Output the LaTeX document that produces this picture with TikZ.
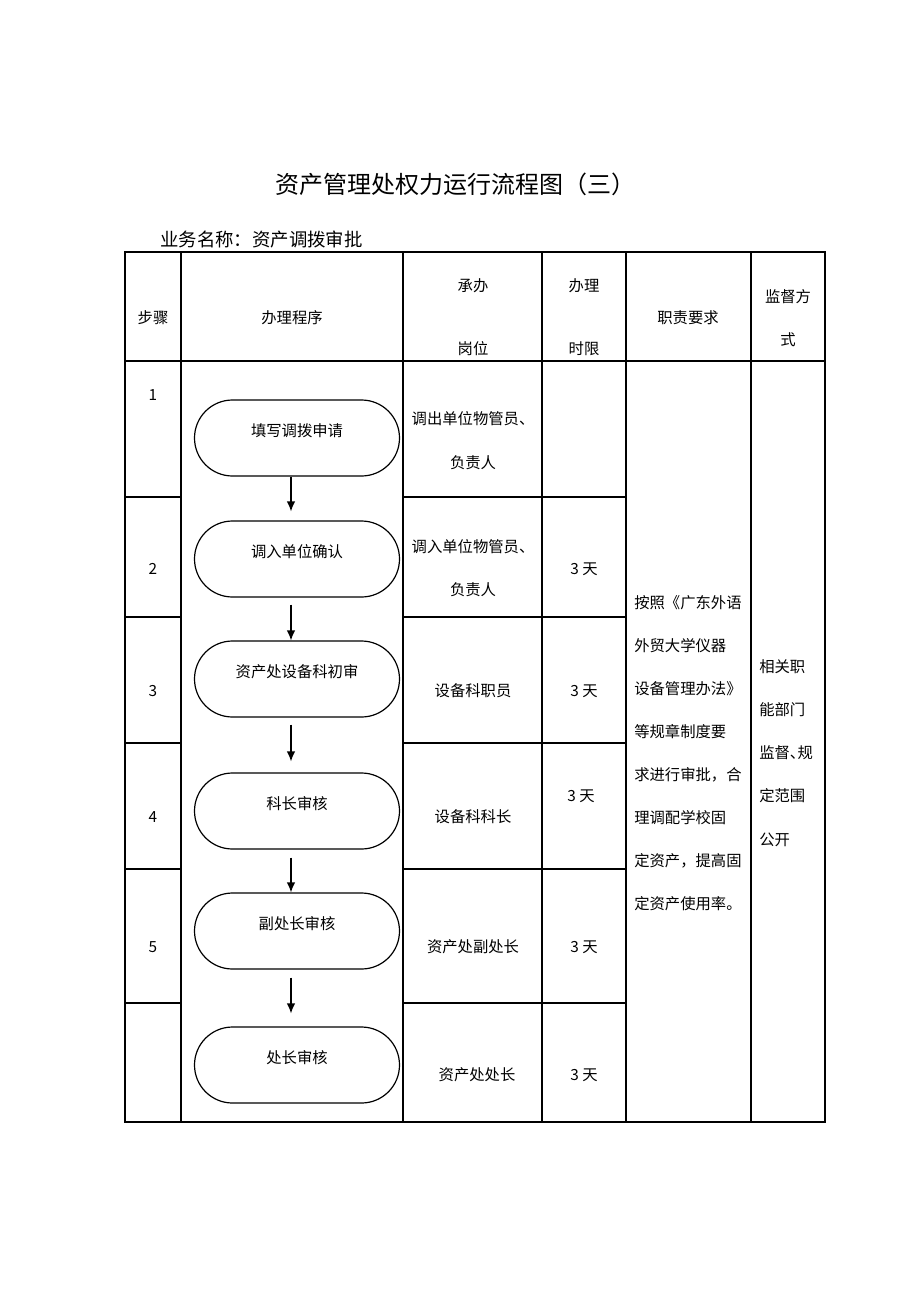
\documentclass[tikz,border=0pt]{standalone}
\usepackage{fontspec}
\setmainfont{Noto Sans CJK SC}
\usetikzlibrary{arrows.meta,calc}
\begin{document}
\begin{tikzpicture}[x=0.75pt,y=-0.75pt,
  grid/.style={line width=1.4pt,black},
  txt/.style={inner sep=0pt,font=\fontsize{11.5pt}{14pt}\selectfont},
  lft/.style={txt,anchor=west},
  procbox/.style={draw,line width=0.9pt,rounded corners=28.5pt,minimum width=153.75pt,minimum height=57pt,inner sep=0pt,font=\fontsize{11.5pt}{14pt}\selectfont},
  arr/.style={line width=1.1pt,-{Latex[length=7.5pt,width=6.5pt]}}]
\useasboundingbox[fill=white] (0,0) rectangle (920,1302);
% title
\node[inner sep=0pt,font=\fontsize{18pt}{22pt}\selectfont] (title) at (455,184) {资产管理处权力运行流程图（三）};
\node[inner sep=0pt,anchor=west,font=\fontsize{13.8pt}{16pt}\selectfont] (sub) at (160,240) {业务名称：资产调拨审批};
% table grid
\draw[grid] (125,252) rectangle (825,1122);
\foreach \x in {181,403,542,626,751} \draw[grid] (\x,252) -- (\x,1122);
\draw[grid] (125,361) -- (825,361);
\foreach \y in {497,617,743,869,1003} {
  \draw[grid] (125,\y) -- (181,\y);
  \draw[grid] (403,\y) -- (626,\y);
}
% header
\node[txt] (h1) at (153,318) {步骤};
\node[txt] (h2) at (292,318) {办理程序};
\node[txt] (h3a) at (473,286) {承办};
\node[txt] (h3b) at (473,349) {岗位};
\node[txt] (h4a) at (584,286) {办理};
\node[txt] (h4b) at (584,349) {时限};
\node[txt] (h5) at (688,318) {职责要求};
\node[txt] (h6a) at (788,297) {监督方};
\node[txt] (h6b) at (788,340) {式};
% step numbers
\node[txt] (s1) at (153,395) {1};
\node[txt] (s2) at (153,569) {2};
\node[txt] (s3) at (153,691) {3};
\node[txt] (s4) at (153,817) {4};
\node[txt] (s5) at (153,947) {5};
% process boxes
\node[procbox] (b1) at (297,438) {\raisebox{11.5pt}{填写调拨申请}};
\node[procbox] (b2) at (297,559) {\raisebox{11.5pt}{调入单位确认}};
\node[procbox] (b3) at (297,679) {\raisebox{11.5pt}{资产处设备科初审}};
\node[procbox] (b4) at (297,811) {\raisebox{11.5pt}{科长审核}};
\node[procbox] (b5) at (297,931) {\raisebox{11.5pt}{副处长审核}};
\node[procbox] (b6) at (297,1065) {\raisebox{11.5pt}{处长审核}};
\coordinate (ax) at (291,0);
\draw[arr] (b1.south -| ax) -- ($(b2.north -| ax)+(0,-9)$);
\draw[arr] ($(b2.south -| ax)+(0,7)$) -- (b3.north -| ax);
\draw[arr] ($(b3.south -| ax)+(0,7)$) -- ($(b4.north -| ax)+(0,-11)$);
\draw[arr] ($(b4.south -| ax)+(0,8)$) -- (b5.north -| ax);
\draw[arr] ($(b5.south -| ax)+(0,8)$) -- ($(b6.north -| ax)+(0,-13)$);
% posts
\node[txt] (p1a) at (473,419) {调出单位物管员、};
\node[txt] (p1b) at (473,463) {负责人};
\node[txt] (p2a) at (473,547) {调入单位物管员、};
\node[txt] (p2b) at (473,590) {负责人};
\node[txt] (p3) at (473,691) {设备科职员};
\node[txt] (p4) at (473,817) {设备科科长};
\node[txt] (p5) at (473,947) {资产处副处长};
\node[txt] (p6) at (477,1075) {资产处处长};
% time limits
\node[txt] (t2) at (584,569) {3 天};
\node[txt] (t3) at (584,691) {3 天};
\node[txt] (t4) at (581,796) {3 天};
\node[txt] (t5) at (584,947) {3 天};
\node[txt] (t6) at (584,1075) {3 天};
% duties
\node[lft] (d1) at (634,603) {按照《广东外语};
\node[lft] (d2) at (634,646) {外贸大学仪器};
\node[lft] (d3) at (634,689) {设备管理办法》};
\node[lft] (d4) at (634,732) {等规章制度要};
\node[lft] (d5) at (634,775) {求进行审批，合};
\node[lft] (d6) at (634,818) {理调配学校固};
\node[lft] (d7) at (634,861) {定资产，提高固};
\node[lft] (d8) at (634,904) {定资产使用率。};
% supervision
\node[lft] (m1) at (759,667) {相关职};
\node[lft] (m2) at (759,710) {能部门};
\node[lft] (m3) at (759,753) {监督、\kern-0.5em规};
\node[lft] (m4) at (759,796) {定范围};
\node[lft] (m5) at (759,840) {公开};
\end{tikzpicture}
\end{document}
